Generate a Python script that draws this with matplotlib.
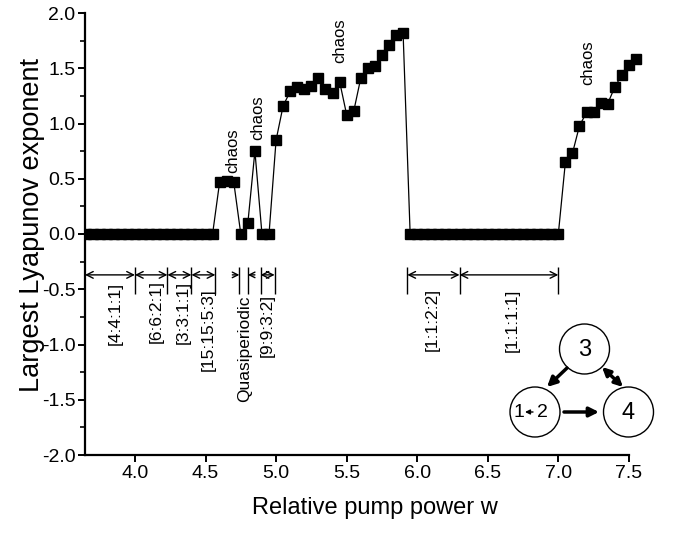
import matplotlib
matplotlib.use("Agg")
import matplotlib.pyplot as plt
from matplotlib.patches import Circle

plt.rcParams['font.family'] = ['Liberation Sans', 'DejaVu Sans']
plt.rcParams['axes.unicode_minus'] = False

# relative pump power w and largest Lyapunov exponent
w = [3.65, 3.70, 3.75, 3.80, 3.85, 3.90, 3.95, 4.00, 4.05, 4.10,
     4.15, 4.20, 4.25, 4.30, 4.35, 4.40, 4.45, 4.50, 4.55,
     4.60, 4.65, 4.70, 4.75, 4.80, 4.85, 4.90, 4.95,
     5.00, 5.05, 5.10, 5.15, 5.20, 5.25, 5.30, 5.35, 5.40, 5.45,
     5.50, 5.55, 5.60, 5.65, 5.70, 5.75, 5.80, 5.85, 5.90,
     5.95, 6.00, 6.05, 6.10, 6.15, 6.20, 6.25, 6.30, 6.35, 6.40, 6.45,
     6.50, 6.55, 6.60, 6.65, 6.70, 6.75, 6.80, 6.85, 6.90, 6.95, 7.00,
     7.05, 7.10, 7.15, 7.20, 7.25, 7.30, 7.35, 7.40, 7.45, 7.50, 7.55]
lyap = [0.0, 0.0, 0.0, 0.0, 0.0, 0.0, 0.0, 0.0, 0.0, 0.0,
        0.0, 0.0, 0.0, 0.0, 0.0, 0.0, 0.0, 0.0, 0.0,
        0.47, 0.48, 0.47, 0.0, 0.10, 0.75, 0.0, 0.0,
        0.85, 1.16, 1.29, 1.33, 1.31, 1.34, 1.41, 1.31, 1.28, 1.38,
        1.08, 1.11, 1.41, 1.50, 1.52, 1.62, 1.71, 1.80, 1.82,
        0.0, 0.0, 0.0, 0.0, 0.0, 0.0, 0.0, 0.0, 0.0, 0.0, 0.0,
        0.0, 0.0, 0.0, 0.0, 0.0, 0.0, 0.0, 0.0, 0.0, 0.0, 0.0,
        0.65, 0.73, 0.98, 1.10, 1.10, 1.19, 1.18, 1.33, 1.44, 1.53, 1.58]

# "chaos" labels (w, y)
chaos_w = [4.69, 4.87, 5.45, 7.21]
chaos_y = [0.75, 1.05, 1.75, 1.55]

# locking regions: bounds and labels
region_lo = [3.646, 4.00, 4.23, 4.40, 5.93, 6.30]
region_hi = [4.00, 4.23, 4.40, 4.57, 6.30, 7.00]
region_names = ['[4:4:1:1]', '[6:6:2:1]', '[3:3:1:1]', '[15:15:5:3]', '[1:1:2:2]', '[1:1:1:1]']
region_label_w = [3.86, 4.15, 4.34, 4.52, 6.11, 6.67]
region_label_y = [-0.43, -0.42, -0.42, -0.49, -0.49, -0.49]

quasi_lo, quasi_hi = 4.74, 4.80
nine_lo, nine_hi = 4.89, 4.99

fig = plt.figure(figsize=(6.73, 5.35), dpi=100)
ax = fig.add_axes([85 / 673, 80 / 535, 558 / 673, 442 / 535])

ax.plot(w, lyap, color='k', lw=0.9, marker='s', ms=7, mfc='k', mec='k')

# the dense zero-exponent runs merge into one solid bar
run = []
for wi, li in zip(w + [None], lyap + [1.0]):
    if li == 0.0:
        run.append(wi)
    else:
        if len(run) > 1:
            ax.plot(run, [0.0] * len(run), color='k', lw=7, solid_capstyle='butt')
        run = []

ax.set_xlim(3.646, 7.6)
ax.set_ylim(-2.0, 2.0)
ax.spines['top'].set_visible(False)
ax.spines['right'].set_visible(False)
ax.spines['bottom'].set_bounds(3.646, 7.5)
for s in ['left', 'bottom']:
    ax.spines[s].set_linewidth(1.6)

ax.set_xticks([4.0, 4.5, 5.0, 5.5, 6.0, 6.5, 7.0, 7.5])
ax.set_yticks([-2.0, -1.5, -1.0, -0.5, 0.0, 0.5, 1.0, 1.5, 2.0])
ax.set_yticks([-1.75, -1.25, -0.75, -0.25, 0.25, 0.75, 1.25, 1.75], minor=True)
ax.set_xticklabels(['4.0', '4.5', '5.0', '5.5', '6.0', '6.5', '7.0', '7.5'])
ax.set_yticklabels(['-2.0', '-1.5', '-1.0', '-0.5', '0.0', '0.5', '1.0', '1.5', '2.0'])
ax.tick_params(which='major', direction='out', length=5, width=1.4, labelsize=14, pad=2)
ax.tick_params(which='minor', direction='out', length=3.5, width=1.2)

ax.set_xlabel('Relative pump power w', fontsize=17)
ax.xaxis.set_label_coords((375 - 85) / 558, -0.095)
ax.set_ylabel('Largest Lyapunov exponent', fontsize=19.5)
ax.yaxis.set_label_coords(-0.072, 0.52)

for cw, cy in zip(chaos_w, chaos_y):
    ax.text(cw, cy, 'chaos', rotation=90, ha='center', va='center', fontsize=12)

# region arrows
arrow_y = -0.37
bar_top, bar_bot = -0.30, -0.54
ap = dict(arrowstyle='<->', lw=1.0, color='k', shrinkA=0, shrinkB=0, mutation_scale=12)
for lo, hi in zip(region_lo, region_hi):
    ax.annotate('', xy=(hi, arrow_y), xytext=(lo, arrow_y), arrowprops=ap)
bars = [4.00, 4.23, 4.40, 4.57, quasi_lo, quasi_hi, nine_lo, nine_hi, 5.93, 6.30, 7.00]
ax.vlines(bars, bar_bot, bar_top, color='k', lw=1.0)

one = dict(arrowstyle='->', lw=1.0, color='k', shrinkA=0, shrinkB=0, mutation_scale=10)
ax.annotate('', xy=(quasi_lo, arrow_y), xytext=(4.69, arrow_y), arrowprops=one)
ax.annotate('', xy=(quasi_hi, arrow_y), xytext=(4.85, arrow_y), arrowprops=one)
ax.annotate('', xy=(nine_hi, arrow_y), xytext=(nine_lo, arrow_y), arrowprops=ap)

for name, lw_, ly in zip(region_names, region_label_w, region_label_y):
    ax.text(lw_, ly, name, rotation=90, ha='center', va='top', fontsize=12.5)
ax.text(4.78, -0.56, 'Quasiperiodic', rotation=90, ha='center', va='top', fontsize=12.5)
ax.text(4.94, -0.54, '[9:9:3:2]', rotation=90, ha='center', va='top', fontsize=12.5)

# coupling diagram (figure pixel coordinates)
ins = fig.add_axes([500 / 673, (535 - 460) / 535, 173 / 673, 160 / 535])
ins.set_xlim(500, 673)
ins.set_ylim(460, 300)
ins.axis('off')
nodes = {'3': (584.5, 349), '12': (535, 412), '4': (628.5, 412)}
for key, (cx, cy) in nodes.items():
    ins.add_patch(Circle((cx, cy), 25, fill=False, lw=1.0, ec='k'))
ins.text(584.5, 350, '3', ha='center', va='center', fontsize=17)
ins.text(628.5, 413, '4', ha='center', va='center', fontsize=17)
ins.text(519, 413, '1', ha='center', va='center', fontsize=14)
ins.text(542, 413, '2', ha='center', va='center', fontsize=14)
ins.annotate('', xy=(525, 412), xytext=(533, 412),
             arrowprops=dict(arrowstyle='-|>', lw=1.0, color='k', shrinkA=0, shrinkB=0, mutation_scale=7))
thick = dict(arrowstyle='-|>', lw=2.5, color='k', shrinkA=0, shrinkB=0, mutation_scale=14)
ins.annotate('', xy=(547, 387), xytext=(567, 368), arrowprops=thick)
ins.annotate('', xy=(599, 412), xytext=(564, 412), arrowprops=thick)
ins.annotate('', xy=(623, 387), xytext=(602, 367),
             arrowprops=dict(arrowstyle='<|-|>', lw=2.5, color='k', shrinkA=0, shrinkB=0, mutation_scale=12))

fig.savefig('out.png', dpi=100)
